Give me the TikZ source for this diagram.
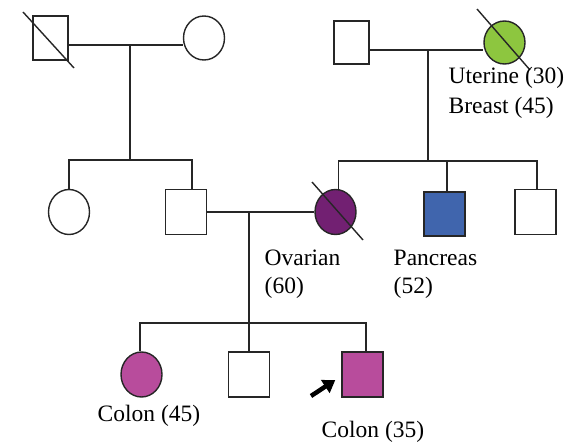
\documentclass[tikz,border=0pt]{standalone}
\usepackage{fontspec}
\setmainfont{Liberation Serif}
\usetikzlibrary{shapes.geometric,arrows.meta,calc}
\definecolor{uterine}{HTML}{8DC63F}
\definecolor{ovarian}{HTML}{722072}
\definecolor{pancreas}{HTML}{4065AD}
\definecolor{colon}{HTML}{B84C9C}
\begin{document}
\begin{tikzpicture}[x=1pt,y=-1pt,line width=1.4pt,color={black!85},
  male/.style={rectangle,draw,fill=white,minimum width=41pt,minimum height=45pt,inner sep=0pt},
  female/.style={ellipse,draw,fill=white,minimum width=41pt,minimum height=45pt,inner sep=0pt},
  label/.style={anchor=base west,inner sep=0pt,text=black,font=\fontsize{23.5}{28}\selectfont}]

       \useasboundingbox (0,0) rectangle (575,444);

       % generation I
       \node[male,minimum width=35pt,minimum height=44pt] (i1) at (50.5,38) {};
       \node[female,minimum height=44pt] (i2) at (204,38) {};
       \node[male,minimum width=35pt,minimum height=43pt] (i3) at (351.5,42.5) {};
       \node[female,fill=uterine,minimum height=43pt] (i4) at (504.5,42.5) {};
       \coordinate (m1) at (130,45);
       \coordinate (m2) at (428,50);

       % generation II
       \node[female] (ii1) at (69,212) {};
       \node[male] (ii2) at (186,212) {};
       \node[female,fill=ovarian] (ii3) at (335.5,212) {};
       \node[male,fill=pancreas,minimum height=44pt] (ii4) at (444.5,214) {};
       \node[male] (ii5) at (535.5,212) {};
       \coordinate (s1) at (130,160);
       \coordinate (s2) at (428,161);
       \coordinate (m3) at (249,212);

       % generation III
       \node[female,fill=colon] (iii1) at (141.5,374.5) {};
       \node[male] (iii2) at (249,374.5) {};
       \node[male,fill=colon] (iii3) at (362.5,374.5) {};
       \coordinate (s3) at (249,323);

       \draw (i1.east |- m1) -- (i2.west |- m1);
       \draw (m1) -- (s1);
       \draw (ii1.north) -- (ii1.north |- s1) -- ([xshift=6pt]ii2.north |- s1) -- ([xshift=6pt]ii2.north);
       \draw (i3.east |- m2) -- (i4.west |- m2);
       \draw (m2) -- (s2);
       \draw ([xshift=3pt]ii3.north) -- ([xshift=3pt]ii3.north |- s2) -- ([xshift=1.5pt]ii5.north |- s2) -- ([xshift=1.5pt]ii5.north);
       \draw ([xshift=2.5pt]ii4.north |- s2) -- ([xshift=2.5pt]ii4.north);
       \draw (ii2) -- (ii3);
       \draw (m3) -- (s3);
       \draw ([xshift=-1.5pt]iii1.north) -- ([xshift=-1.5pt]iii1.north |- s3) -- ([xshift=3.5pt]iii3.north |- s3) -- ([xshift=3.5pt]iii3.north);
       \draw (s3) -- (iii2.north);

       % deceased
       \draw (i1.center) +(-27.5,-26) -- +(23.5,30);
       \draw (i4.center) +(-27.5,-33.5) -- +(25.5,27.5);
       \draw (ii3.center) +(-23.5,-30) -- +(27.5,28);

       % proband
       \coordinate (pa) at (311,396);
       \coordinate (pb) at ($(iii3.west)+(-6,5.5)$);
       \draw[line width=4.5pt,color=black,-{Triangle[length=12pt,width=15pt]}] (pa) -- (pb);

       \node[label] (t1) at (448,83) {Uterine (30)};
       \node[label] (t2) at (448,113) {Breast (45)};
       \node[label] (t3) at (264,265) {Ovarian};
       \node[label] (t4) at (264,293) {(60)};
       \node[label] (t5) at (393,265) {Pancreas};
       \node[label] (t6) at (393,293) {(52)};
       \node[label] (t7) at (97,421) {Colon (45)};
       \node[label] (t8) at (321,437) {Colon (35)};
     \end{tikzpicture}
\end{document}
